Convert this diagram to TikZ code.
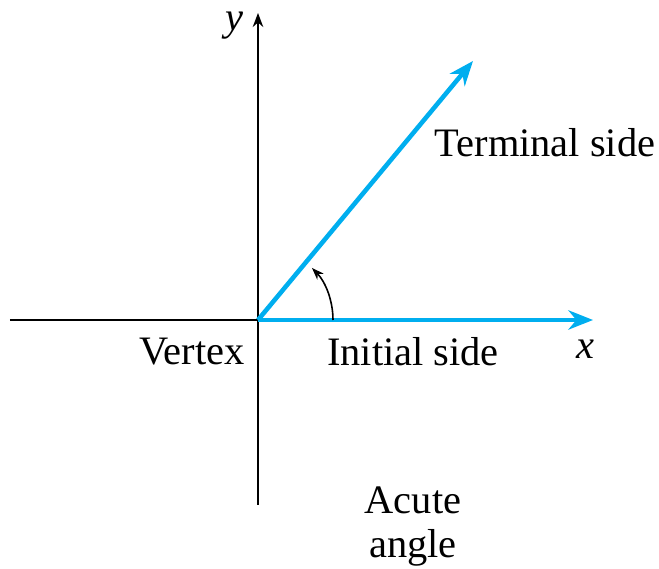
\documentclass[tikz,border=0pt]{standalone}
\usepackage{fontspec}
\setmainfont{Liberation Serif}
\usepackage{xcolor}
\usetikzlibrary{arrows.meta, positioning}
\definecolor{rayblue}{RGB}{0,174,239}

\begin{document}
\begin{tikzpicture}[font=\fontsize{23}{27}\selectfont]
\useasboundingbox (-5.16,-4.98) rectangle (8.02,6.4);
\coordinate (O) at (0,0);
\coordinate (L) at (-4.96,0);
\coordinate (B) at (0,-3.7);
\coordinate (T) at (0,6.14);
\coordinate (X) at (6.7,0);
\coordinate (P) at (4.3,5.18);

\node (y) at (-0.48,5.88) {\textit{y}};
\node (x) at (6.54,-0.58) {\textit{x}};
\node (term) at (5.74,3.54) {Terminal side};
\node (vert) at (-1.32,-0.64) {Vertex};
\node (init) at (3.1,-0.64) {Initial side};
\node[align=center] (acute) at (3.1,-4.13) {Acute\\[-2pt]angle};

\draw[line width=1pt] (L) -- (O);
\draw[line width=1pt,-{Stealth[length=8pt,width=6pt]}] (B) -- (T);
\draw[rayblue,line width=2.6pt,-{Stealth[length=14pt,width=11pt]}] (O) -- (X);
\draw[rayblue,line width=2.6pt,-{Stealth[length=14pt,width=11pt]}] (O) -- (P);
\draw[line width=0.9pt,-{Stealth[length=7pt,width=5pt]}] (1.5,0) arc[start angle=0,end angle=44,radius=1.5];
\end{tikzpicture}
\end{document}
